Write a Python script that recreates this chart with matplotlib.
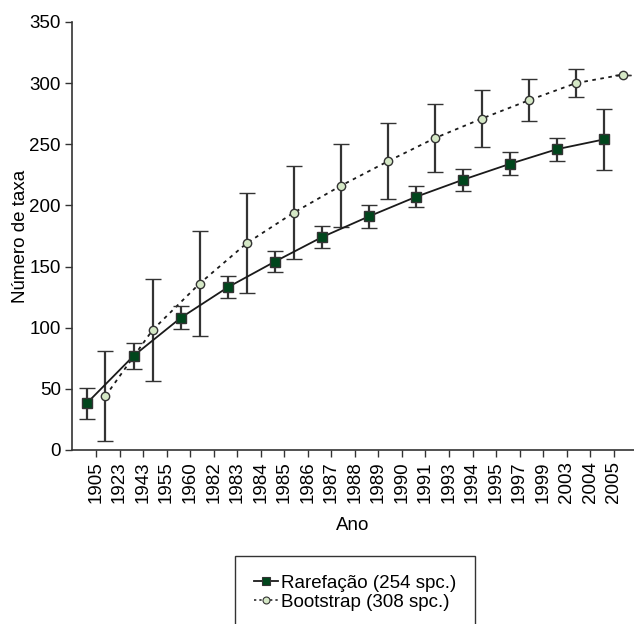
import matplotlib
matplotlib.use('Agg')
import matplotlib.pyplot as plt
from matplotlib.lines import Line2D
import numpy as np

plt.rcParams['font.family'] = ['Liberation Sans', 'DejaVu Sans']

anos = ['1905', '1923', '1943', '1955', '1960', '1982', '1983', '1984', '1985',
        '1986', '1987', '1988', '1989', '1990', '1991', '1993', '1994', '1995',
        '1997', '1999', '2003', '2004', '2005']

# Rarefacao (254 spc.)
rare_val = [38, 77, 108, 133, 154, 174, 191, 207, 221, 234, 246, 254]
rare_err = [13, 10.5, 9.5, 9, 8.5, 9, 9.7, 8.5, 9, 9.5, 9.5, 25]

# Bootstrap (308 spc.)
boot_val = [44, 98, 136, 169, 194, 216, 236, 255, 271, 286, 300, 307]
boot_err = [37, 42, 43, 41, 38, 34, 31, 28, 23, 17, 11.5, 0]

fs = 13.5

fig = plt.figure(figsize=(6.34, 6.24), dpi=100)
ax = fig.add_axes([0.1136, 0.279, 0.886, 0.6858])

pos = np.arange(0, len(anos), 2)
x_rare = pos - 0.4
x_boot = pos + 0.4

ax.errorbar(x_boot, boot_val, yerr=boot_err, fmt='o', ls=(0, (2, 2.5)), color='#1a1a1a',
            lw=1.3, ms=6, mfc='#d5e8c6', mec='#333333', mew=1.0,
            ecolor='#333333', elinewidth=1.6, capsize=6, capthick=1.6, zorder=3)
ax.errorbar(x_rare, rare_val, yerr=rare_err, fmt='s', ls='-', color='#1a1a1a',
            lw=1.3, ms=7.5, mfc='#00461c', mec='#333333', mew=1.0,
            ecolor='#333333', elinewidth=1.6, capsize=6, capthick=1.6, zorder=4)

ax.set_xlim(-1.02, 22.85)
ax.set_ylim(0, 350)
ax.set_yticks(range(0, 351, 50))
ax.set_xticks(range(len(anos)))
ax.set_xticklabels(anos, rotation=90)
ax.tick_params(direction='out', length=5, width=1, labelsize=fs, color='#333333', pad=3)
for s in ['top', 'right']:
    ax.spines[s].set_visible(False)
for s in ['left', 'bottom']:
    ax.spines[s].set_linewidth(1.2)
    ax.spines[s].set_color('#333333')

ax.set_xlabel('Ano', fontsize=fs, labelpad=10)
ax.set_ylabel('Número de taxa', fontsize=fs, labelpad=0)

h_rare = Line2D([], [], ls='-', color='#1a1a1a', lw=1.3, marker='s', ms=6,
                mfc='#00461c', mec='#333333', mew=0.8)
h_boot = Line2D([], [], ls=(0, (1.5, 2)), color='#1a1a1a', lw=1.1, marker='o', ms=5,
                mfc='#d5e8c6', mec='#333333', mew=0.8)
leg = fig.legend([h_rare, h_boot], ['Rarefação (254 spc.)', 'Bootstrap (308 spc.)'],
                 loc='upper left', bbox_to_anchor=(235 / 634, 1 - 556 / 624),
                 fontsize=fs, frameon=True, fancybox=False, edgecolor='black',
                 handlelength=1.3, handletextpad=0.15, borderpad=1.0, labelspacing=0.1,
                 borderaxespad=0)
leg.get_frame().set_linewidth(1.0)

fig.savefig('out.png', dpi=100)
